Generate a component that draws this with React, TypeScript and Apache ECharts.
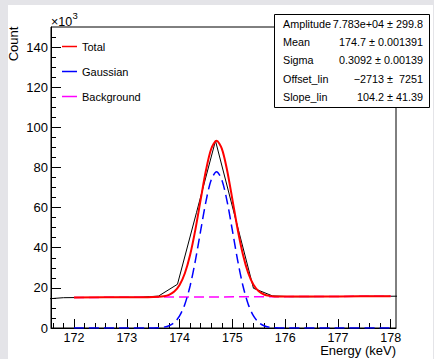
import { useEffect, useRef } from "react";
import * as echarts from "echarts";

// Histogram (bin centres in keV, counts)
const histEnergy = [171.44, 171.8, 172.16, 172.52, 172.88, 173.24, 173.6, 173.96, 174.32, 174.68, 175.04, 175.4, 175.76, 176.12, 176.48, 176.84, 177.2, 177.56, 177.92, 178.28];
const histCounts = [14400, 15100, 15200, 15200, 15300, 15300, 15900, 21800, 57500, 93300, 56500, 19800, 16000, 15600, 15600, 15700, 15700, 15800, 15800, 15900];

// Fit curves
const fitEnergy = [172, 173, 173.4, 173.5, 173.6, 173.7, 173.8, 173.9, 174, 174.1, 174.2, 174.3, 174.4, 174.5, 174.6, 174.7, 174.8, 174.9, 175, 175.1, 175.2, 175.3, 175.4, 175.5, 175.6, 175.7, 175.8, 175.9, 176, 177, 178];
const totalCounts = [15209, 15313, 15366, 15408, 15515, 15804, 16522, 18147, 21418, 27272, 36492, 49157, 64069, 78608, 89343, 93321, 89364, 78650, 64132, 49240, 36596, 27397, 21564, 18314, 16709, 16012, 15744, 15658, 15637, 15730, 15834];
const gaussCounts = [0, 0, 11, 42, 139, 417, 1125, 2740, 6000, 11844, 21053, 33708, 48610, 63138, 73863, 77830, 73863, 63138, 48610, 33708, 21053, 11844, 6000, 2740, 1125, 417, 139, 42, 11, 0, 0];
const bgEnergy = [172, 178];
const bgCounts = [15209, 15835];

// Axes
const xTickLabels = [172, 173, 174, 175, 176, 177, 178];
const yTickLabels = [0, 20000, 40000, 60000, 80000, 100000, 120000, 140000];
const X_MIN = 171.564;
const X_MAX = 178.1;
const Y_MAX = 150000;

const legendNames = ["Total", "Gaussian", "Background"];
const statNames = ["Amplitude", "Mean", "Sigma", "Offset_lin", "Slope_lin"];
const statValues = ["7.783e+04 ± 299.8", "174.7 ± 0.001391", "0.3092 ± 0.00139", "−2713 ±  7251", "104.2 ± 41.39"];

const FONT = "'Liberation Sans', Arial, Helvetica, sans-serif";

export default function App() {
  const ref = useRef<HTMLDivElement>(null);

  useEffect(() => {
    const chart = echarts.init(ref.current!, null, { renderer: "svg" });

    const xMinor: number[] = [];
    for (let v = 171.6; v < X_MAX; v += 0.2) {
      const r = Math.round(v * 10) / 10;
      if (Math.abs(r - Math.round(r)) > 1e-6) xMinor.push(r);
    }
    const yMinor: number[] = [];
    for (let v = 5000; v < Y_MAX; v += 5000) {
      if (v % 20000 !== 0) yMinor.push(v);
    }

    const gridRect = { left: 51, top: 27, width: 345, height: 301 };
    const pair = (xs: number[], ys: number[]) => xs.map((x, i) => [x, ys[i]]);

    const statRowsY = [23.5, 42, 60.3, 78.5, 96.7];
    const statTexts: any[] = [];
    statNames.forEach((n, i) => {
      statTexts.push({
        type: "text",
        x: 283,
        y: statRowsY[i],
        style: { text: n, fontSize: 10.8, fontFamily: FONT, fill: "#000", align: "left", verticalAlign: "middle" },
      });
      statTexts.push({
        type: "text",
        x: 423,
        y: statRowsY[i],
        style: { text: statValues[i], fontSize: 10.8, fontFamily: FONT, fill: "#000", align: "right", verticalAlign: "middle" },
      });
    });

    const option: any = {
      animation: false,
      grid: [
        { ...gridRect, show: true, borderColor: "#000", borderWidth: 1, backgroundColor: "transparent" },
        { ...gridRect, show: false },
      ],
      xAxis: [
        {
          type: "value",
          gridIndex: 0,
          min: X_MIN,
          max: X_MAX,
          axisLine: { show: true, onZero: false, lineStyle: { color: "#000", width: 1 } },
          axisTick: { show: true, inside: true, length: 9, customValues: xTickLabels, lineStyle: { color: "#000", width: 1 } },
          axisLabel: { show: true, customValues: xTickLabels, color: "#000", fontSize: 12.5, lineHeight: 13, fontFamily: FONT, margin: 3 },
          splitLine: { show: false },
        },
        {
          type: "value",
          gridIndex: 1,
          min: X_MIN,
          max: X_MAX,
          axisLine: { show: false },
          axisTick: { show: true, inside: true, length: 5, customValues: xMinor, lineStyle: { color: "#000", width: 1 } },
          axisLabel: { show: false },
          splitLine: { show: false },
        },
      ],
      yAxis: [
        {
          type: "value",
          gridIndex: 0,
          min: 0,
          max: Y_MAX,
          axisLine: { show: true, onZero: false, lineStyle: { color: "#000", width: 1 } },
          axisTick: { show: true, inside: true, length: 10, customValues: yTickLabels, lineStyle: { color: "#000", width: 1 } },
          axisLabel: {
            show: true,
            customValues: yTickLabels,
            formatter: (v: number) => String(Math.round(v / 1000)),
            color: "#000",
            fontSize: 13,
            fontFamily: FONT,
            margin: 3,
          },
          splitLine: { show: false },
        },
        {
          type: "value",
          gridIndex: 1,
          min: 0,
          max: Y_MAX,
          axisLine: { show: false },
          axisTick: { show: true, inside: true, length: 5, customValues: yMinor, lineStyle: { color: "#000", width: 1 } },
          axisLabel: { show: false },
          splitLine: { show: false },
        },
      ],
      legend: {
        data: legendNames,
        orient: "vertical",
        left: 62,
        top: 34,
        padding: 0,
        itemGap: 0,
        itemWidth: 15,
        itemHeight: 1.5,
        icon: "rect",
        selectedMode: false,
        textStyle: { fontSize: 11, fontFamily: FONT, color: "#000", lineHeight: 25 },
      },
      series: [
        {
          type: "line",
          xAxisIndex: 0,
          yAxisIndex: 0,
          data: pair(histEnergy, histCounts),
          showSymbol: false,
          symbol: "none",
          clip: true,
          lineStyle: { color: "#000", width: 1 },
          itemStyle: { color: "#000" },
          z: 2,
        },
        {
          type: "line",
          name: "Background",
          xAxisIndex: 0,
          yAxisIndex: 0,
          data: pair(bgEnergy, bgCounts),
          showSymbol: false,
          symbol: "none",
          clip: true,
          lineStyle: { color: "#ff00ff", width: 1.5, type: [10, 5] },
          itemStyle: { color: "#ff00ff" },
          z: 3,
        },
        {
          type: "line",
          name: "Gaussian",
          xAxisIndex: 0,
          yAxisIndex: 0,
          data: pair(fitEnergy, gaussCounts),
          showSymbol: false,
          symbol: "none",
          smooth: 0.3,
          clip: true,
          lineStyle: { color: "#0000ff", width: 1.5, type: [10, 5] },
          itemStyle: { color: "#0000ff" },
          z: 4,
        },
        {
          type: "line",
          name: "Total",
          xAxisIndex: 0,
          yAxisIndex: 0,
          data: pair(fitEnergy, totalCounts),
          showSymbol: false,
          symbol: "none",
          smooth: 0.3,
          clip: true,
          lineStyle: { color: "#ff0000", width: 2 },
          itemStyle: { color: "#ff0000" },
          z: 5,
        },
      ],
      graphic: [
        {
          type: "text",
          x: 13,
          y: 44,
          rotation: Math.PI / 2,
          style: { text: "Count", fontSize: 13, fontFamily: FONT, fill: "#000", align: "center", verticalAlign: "middle" },
        },
        {
          type: "text",
          x: 51,
          y: 22,
          style: { text: "×10", fontSize: 12.5, fontFamily: FONT, fill: "#000", align: "left", verticalAlign: "middle" },
        },
        {
          type: "text",
          x: 72.5,
          y: 15.5,
          style: { text: "3", fontSize: 9.5, fontFamily: FONT, fill: "#000", align: "left", verticalAlign: "middle" },
        },
        {
          type: "text",
          x: 396,
          y: 350.5,
          style: { text: "Energy (keV)", fontSize: 13, lineHeight: 13, fontFamily: FONT, fill: "#000", align: "right", verticalAlign: "middle" },
        },
        {
          type: "group",
          z: 100,
          children: [
            {
              type: "rect",
              shape: { x: 274.5, y: 14.5, width: 155, height: 93 },
              style: { fill: "#fff", stroke: "#000", lineWidth: 1 },
            },
            ...statTexts,
          ],
        },
      ],
    };

    chart.setOption(option);
    return () => chart.dispose();
  }, []);

  return (
    <div style={{ position: "fixed", left: 0, top: 0, width: 434, height: 359, background: "#e4e4e8" }}>
      <div style={{ position: "absolute", left: 8, top: 5, width: 425, height: 354, background: "#fff" }} />
      <div ref={ref} style={{ position: "absolute", left: 0, top: 0, width: 434, height: 359 }} />
    </div>
  );
}
